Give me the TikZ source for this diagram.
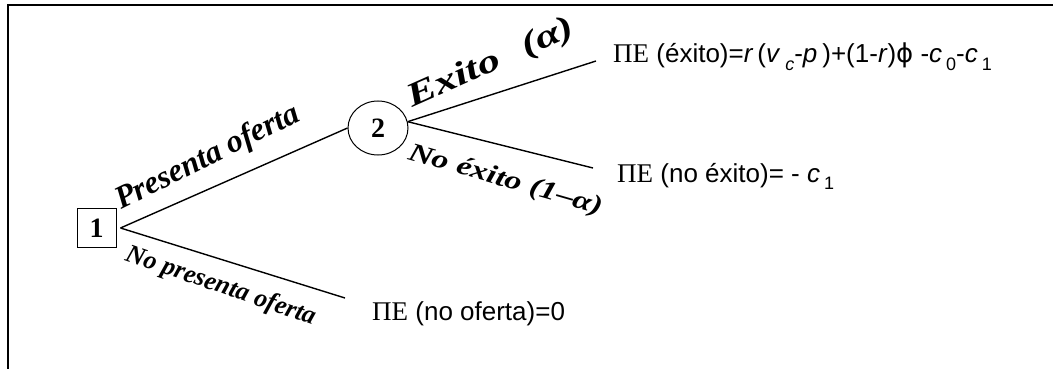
\documentclass[tikz,border=0pt]{standalone}
\usepackage{fontspec}
\usepackage{graphicx}
\setmainfont{Liberation Serif}
\newfontfamily\sansf{Liberation Sans}
\newfontfamily\djv{DejaVu Sans}
\usetikzlibrary{shapes.geometric}
\newcommand{\fs}[1]{\fontsize{#1}{#1}\selectfont}
\newcommand{\lo}[1]{\raisebox{-0.3em}{\fs{18}#1}}
\begin{document}
\begin{tikzpicture}[x=1pt,y=-1pt,
  frame/.style={line width=2pt},
  branch/.style={line width=1.4pt},
  decbox/.style={draw, line width=1pt, minimum size=39pt, inner sep=0pt, font=\fs{28}\bfseries},
  chance/.style={draw, ellipse, line width=1pt, minimum width=60pt, minimum height=54pt, inner sep=0pt, font=\fs{28}\bfseries},
  lab/.style={inner sep=0pt, anchor=base west},
  pay/.style={inner sep=0pt, anchor=base west, font=\sansf\fs{26}}]
\useasboundingbox (0,0) rectangle (1053,369);
\draw[frame] (8,369) -- (8,5.3) -- (1053,5.3);

\node[decbox] (n1) at (96.5,228) {1};
\node[chance] (n2) at (378,128) {2};

\coordinate (s1) at ([xshift=4pt]n1.east);
\coordinate (s2) at (n2.12);
\coordinate (e1) at (596,61);
\coordinate (e2) at (593,168);
\coordinate (e3) at (345,298);

\draw[branch] (s1) -- (n2.west);
\draw[branch] (s1) -- (e3);
\draw[branch] (s2) -- (e1);
\draw[branch] (s2) -- (e2);

\node[lab, rotate=26.5, font=\bfseries\itshape\fs{32}] (lp) at (121,210) {Presenta oferta};
\node[lab, rotate=-19, font=\bfseries\itshape\fs{26}] (lnp) at (124,260) {No presenta oferta};
\node[lab, rotate=24, font=\bfseries\itshape] (le) at (412,108) {\scalebox{1.35}[1]{\fs{33}Exito\ \ \kern3pt(α)}};
\node[lab, rotate=-16, font=\bfseries\itshape] (lne) at (407,159) {\scalebox{1.3}[1]{\fs{26}No éxito (1–α)}};

\node[pay] (p1) at (613,63) {{\rmfamily\fs{27}ΠE} (éxito)=\textit{r}\kern4pt(\textit{v}\kern5pt\lo{\textit{c}}-\textit{p}\kern5pt)+(1-\textit{r}){\djv ϕ}\ -\textit{c}\kern4pt\lo{0}-\textit{c}\kern4pt\lo{1}};
\node[pay] (p2) at (617,182) {{\rmfamily\fs{27}ΠE} (no éxito)= - \textit{c}\kern4pt\lo{1}};
\node[pay] (p3) at (372,320) {{\rmfamily\fs{27}ΠE} (no oferta)=0};
\end{tikzpicture}
\end{document}
